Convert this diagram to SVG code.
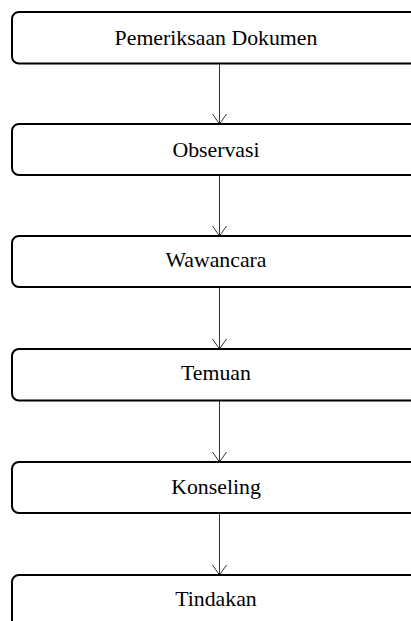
<svg xmlns="http://www.w3.org/2000/svg" width="411" height="621" viewBox="0 0 411 621">
<style>
.box{fill:#fff;stroke:#000;stroke-width:2}
.lbl{font-family:"Liberation Serif","Times New Roman",serif;font-size:21.8px;fill:#000;text-anchor:middle}
.con{stroke:#333;stroke-width:1;fill:none}
</style>
<defs>
<marker id="arr" markerWidth="14" markerHeight="16" refX="11" refY="8" orient="auto" markerUnits="userSpaceOnUse" viewBox="0 0 14 16">
<path d="M1,1 L11,8 L1,15" fill="none" stroke="#333" stroke-width="1"/>
</marker>
</defs>
<rect width="411" height="621" fill="#fff"/>
<g id="connectors">
<line class="con" x1="219.5" y1="64" x2="219.5" y2="124" marker-end="url(#arr)"/>
<line class="con" x1="219.5" y1="175" x2="219.5" y2="236" marker-end="url(#arr)"/>
<line class="con" x1="219.5" y1="287" x2="219.5" y2="349" marker-end="url(#arr)"/>
<line class="con" x1="219.5" y1="400" x2="219.5" y2="462" marker-end="url(#arr)"/>
<line class="con" x1="219.5" y1="513" x2="219.5" y2="575" marker-end="url(#arr)"/>
</g>
<g id="n1"><rect class="box" x="12" y="12" width="410" height="51.5" rx="7"/><text class="lbl" x="216" y="45">Pemeriksaan Dokumen</text></g>
<g id="n2"><rect class="box" x="12" y="124" width="410" height="51" rx="7"/><text class="lbl" x="216" y="157">Observasi</text></g>
<g id="n3"><rect class="box" x="12" y="236" width="410" height="51" rx="7"/><text class="lbl" x="216" y="267">Wawancara</text></g>
<g id="n4"><rect class="box" x="12" y="349" width="410" height="51.5" rx="7"/><text class="lbl" x="216" y="380">Temuan</text></g>
<g id="n5"><rect class="box" x="12" y="462" width="410" height="51" rx="7"/><text class="lbl" x="216" y="494">Konseling</text></g>
<g id="n6"><rect class="box" x="12" y="575" width="410" height="60" rx="7"/><text class="lbl" x="216" y="606">Tindakan</text></g>
</svg>
